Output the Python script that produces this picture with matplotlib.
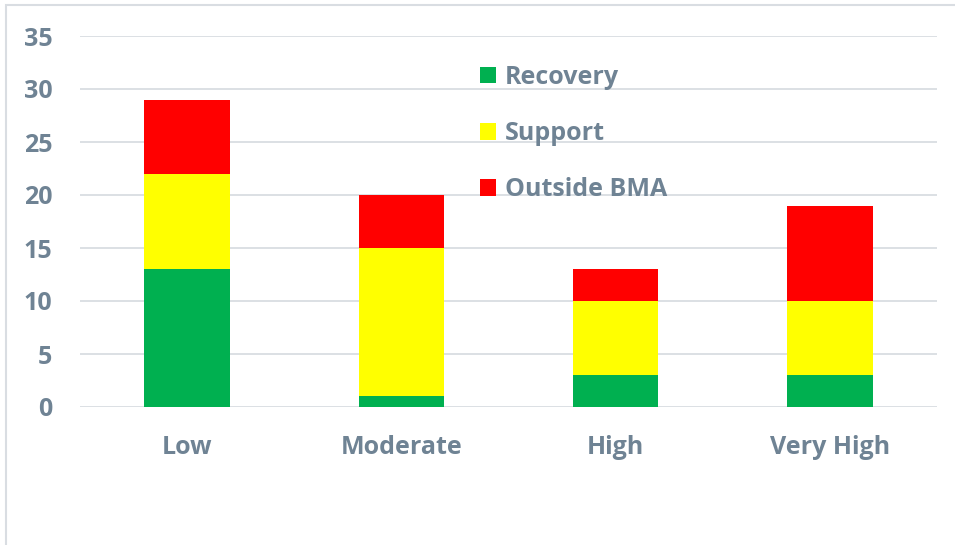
import matplotlib.pyplot as plt
from matplotlib.patches import Rectangle

categories = ['Low', 'Moderate', 'High', 'Very High']
recovery = [13, 1, 3, 3]
support = [9, 14, 7, 7]
outside_bma = [7, 5, 3, 9]

text_color = '#6F8394'
plt.rcParams['font.family'] = ['Open Sans', 'DejaVu Sans']
plt.rcParams['font.weight'] = 'bold'

fig = plt.figure(figsize=(9.55, 5.45), dpi=100)
ax = fig.add_axes([80 / 955, 1 - 407 / 545, 857 / 955, 371 / 545])

x = range(len(categories))
bottom2 = [a + b for a, b in zip(recovery, support)]
ax.bar(x, recovery, width=0.4, color='#00B050', label='Recovery', zorder=3)
ax.bar(x, support, width=0.4, bottom=recovery, color='#FFFF00', label='Support', zorder=3)
ax.bar(x, outside_bma, width=0.4, bottom=bottom2, color='#FF0000', label='Outside BMA', zorder=3)

ax.set_xlim(-0.5, 3.5)
ax.set_ylim(0, 35)
ax.set_yticks(range(0, 36, 5))
ax.set_xticks(list(x))
ax.set_xticklabels(categories)
ax.grid(axis='y', color='#D9DDE2', linewidth=1.3, zorder=0)
for s in ax.spines.values():
    s.set_visible(False)
ax.tick_params(length=0, colors=text_color, labelsize=18)
ax.tick_params(axis='y', pad=20)
ax.tick_params(axis='x', pad=20)

leg = ax.legend(loc='upper left', bbox_to_anchor=(0.44, 0.983), frameon=False,
                fontsize=18, handlelength=0.65, handleheight=0.65,
                handletextpad=0.35, labelspacing=1.25)
for t in leg.get_texts():
    t.set_color(text_color)

# outer chart border
fig.patches.append(Rectangle((6 / 955, -0.1), 1.2, 1 - 5 / 545 + 0.1,
                             transform=fig.transFigure, fill=False,
                             edgecolor='#D9DDE2', linewidth=1.5))

fig.savefig('out.png', dpi=100)
